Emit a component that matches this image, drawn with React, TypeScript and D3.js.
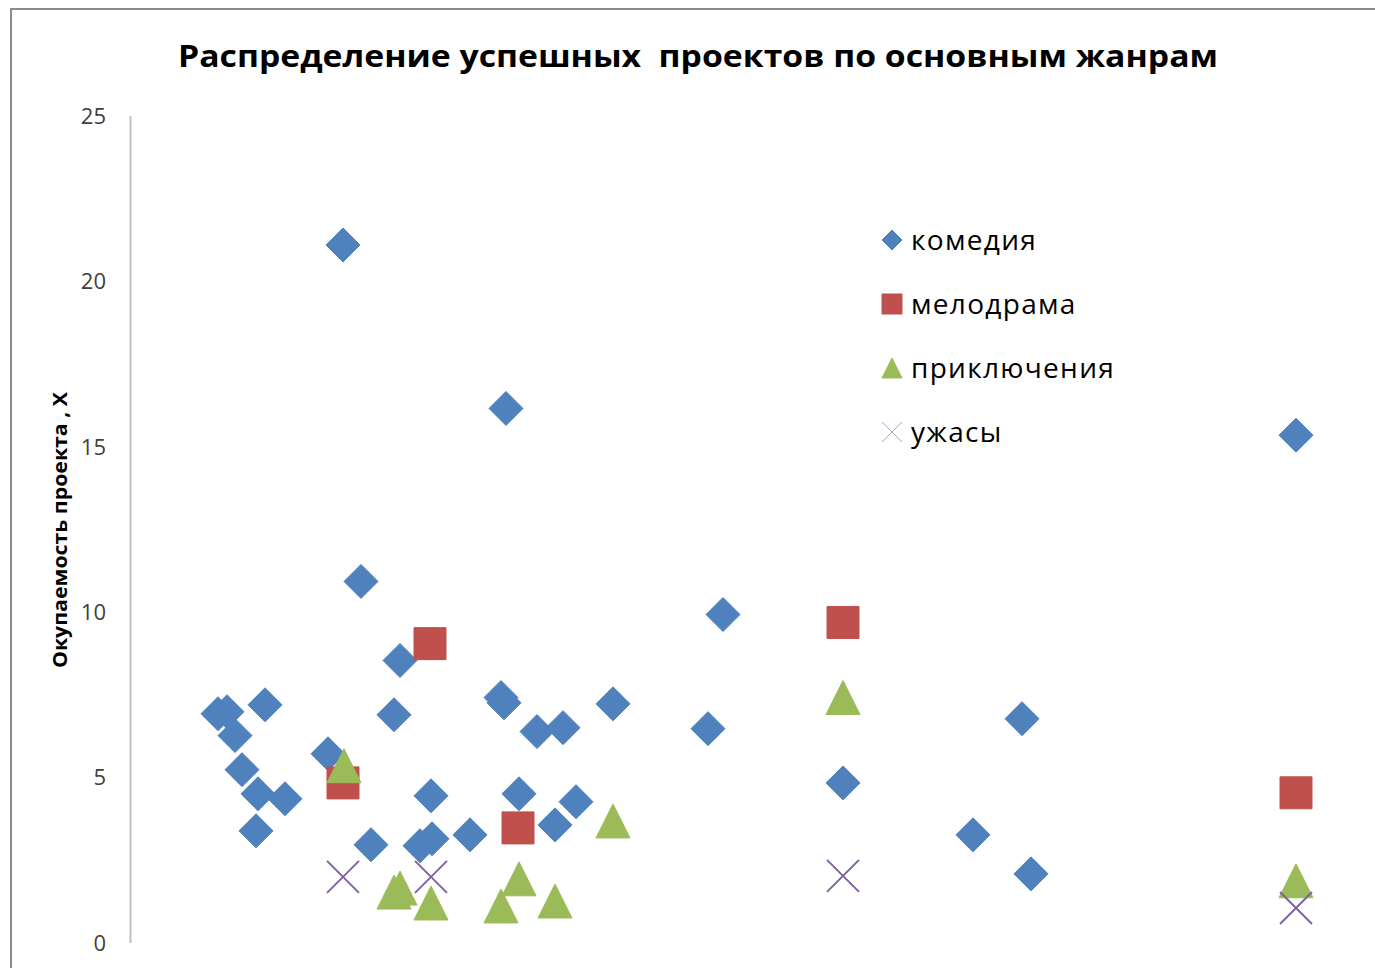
import * as d3 from 'd3';

// series: x (budget, arbitrary units) / y (payback, X)
const comedyX = [8.8, 9.7, 10.5, 13.5, 11.2, 12.8, 15.5, 12.6, 19.8, 21.3, 23.1, 24.1, 27.0, 26.4, 29.0, 30.2, 30.1, 34.0, 37.1, 37.4, 37.6, 38.9, 40.7, 42.5, 43.3, 44.6, 48.3, 57.8, 59.3, 71.3, 84.3, 89.2, 90.1, 116.6];
const comedyY = [6.93, 6.99, 6.27, 7.2, 5.24, 4.51, 4.36, 3.39, 5.72, 21.1, 10.93, 2.97, 8.54, 6.9, 2.94, 3.15, 4.45, 3.27, 7.42, 7.26, 16.16, 4.51, 6.39, 3.57, 6.51, 4.27, 7.23, 6.48, 9.93, 4.84, 3.27, 6.78, 2.09, 15.35];

const dramaX = [21.3, 30.0, 38.8, 71.3, 116.6];
const dramaY = [4.84, 9.05, 3.48, 9.69, 4.54];

const adventureX = [21.4, 26.4, 27.0, 30.1, 37.1, 38.9, 42.5, 48.3, 71.3, 116.6];
const adventureY = [5.36, 1.54, 1.66, 1.21, 1.12, 1.94, 1.27, 3.69, 7.42, 1.88];

const horrorX = [21.3, 30.1, 71.3, 116.6];
const horrorY = [2.0, 2.0, 2.03, 1.06];

const yTicks = [0, 5, 10, 15, 20, 25];
const seriesNames = ['комедия', 'мелодрама', 'приключения', 'ужасы'];

const title = 'Распределение успешных  проектов по основным жанрам';
const yTitle = 'Окупаемость проекта , Х';

const W = 1375;
const H = 968;
const font = "'Open Sans', 'Noto Sans', sans-serif";

const colors = ['#4F81BD', '#C0504D', '#9BBB59', '#8064A2'];

function marker(kind: number, r: number): string {
  if (kind === 0) return `M0,${-r}L${r},0L0,${r}L${-r},0Z`;
  if (kind === 1) return `M${-r},${-r}H${r}V${r}H${-r}Z`;
  if (kind === 2) return `M0,${-r}L${r},${r}H${-r}Z`;
  return `M${-r},${-r}L${r},${r}M${r},${-r}L${-r},${r}`;
}

export default function App() {
  const x = d3.scaleLinear().domain([0, 125]).range([130, 1380]);
  const y = d3.scaleLinear().domain([0, 25]).range([943, 116]);

  const series = [
    { xs: comedyX, ys: comedyY, r: 17 },
    { xs: dramaX, ys: dramaY, r: 16 },
    { xs: adventureX, ys: adventureY, r: 17 },
    { xs: horrorX, ys: horrorY, r: 16 },
  ];

  return (
    <div style={{ position: 'absolute', left: 0, top: 0 }}>
      <svg width={W} height={H} style={{ display: 'block', background: '#fff' }}>
        {/* chart frame (cut off on the right and bottom) */}
        <path d={`M11,${H}V9H${W}`} fill="none" stroke="#8C8C8C" strokeWidth={2} />

        <text
          x={178}
          y={67}
          textLength={1040}
          lengthAdjust="spacingAndGlyphs"
          fontFamily={font}
          fontWeight="bold"
          fontSize={31}
          fill="#000"
          style={{ whiteSpace: 'pre' }}
        >
          {title}
        </text>

        {/* y axis */}
        <line x1={130.5} x2={130.5} y1={y(25)} y2={y(0)} stroke="#BFBFBF" strokeWidth={2} />
        {yTicks.map((t) => (
          <text
            key={t}
            x={106}
            y={y(t)}
            dy="0.35em"
            textAnchor="end"
            fontFamily={font}
            fontSize={22}
            fill="#404040"
          >
            {t}
          </text>
        ))}
        <text
          transform={`translate(67,530) rotate(-90)`}
          x={-138}
          textLength={276}
          lengthAdjust="spacingAndGlyphs"
          fontFamily={font}
          fontWeight="bold"
          fontSize={20}
          fill="#000"
        >
          {yTitle}
        </text>

        {/* points */}
        {series.map((s, k) => (
          <g key={k}>
            {s.xs.map((v, i) => (
              <path
                key={i}
                transform={`translate(${x(v)},${y(s.ys[i])})`}
                d={marker(k, s.r)}
                fill={k === 3 ? 'none' : colors[k]}
                stroke={colors[k]}
                strokeWidth={k === 3 ? 2 : 1}
              />
            ))}
          </g>
        ))}

        {/* legend */}
        {seriesNames.map((name, k) => (
          <g key={name} transform={`translate(892,${240 + k * 64})`}>
            <path
              d={marker(k, 10)}
              fill={k === 3 ? 'none' : colors[k]}
              stroke={k === 3 ? '#B3A2C7' : colors[k]}
              strokeWidth={1}
            />
            <text x={19} dy="0.35em" fontFamily={font} fontSize={28} letterSpacing={1.3} fill="#000">
              {name}
            </text>
          </g>
        ))}
      </svg>
    </div>
  );
}
